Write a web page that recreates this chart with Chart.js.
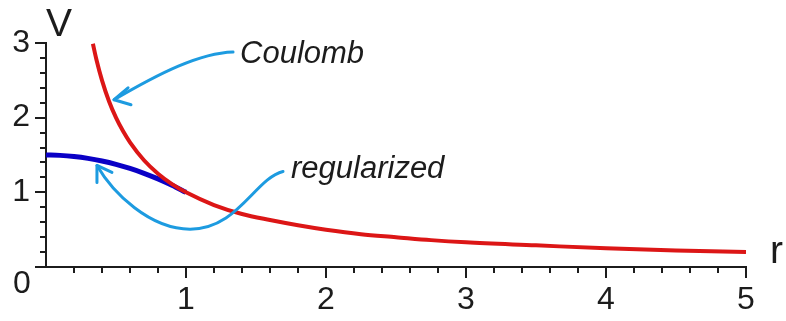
<!DOCTYPE html>
<html>
<head>
<meta charset="utf-8">
<script src="https://cdn.jsdelivr.net/npm/chart.js@4/dist/chart.umd.min.js"></script>
<style>
  html, body { margin: 0; padding: 0; background: #ffffff; }
  #wrap { width: 786px; height: 321px; }
</style>
</head>
<body>
<div id="wrap"><canvas id="c" width="786" height="321"></canvas></div>
<script>
// Potential of a point charge (Coulomb) and of the regularized charge
const coulombR = [0.335, 0.36, 0.4, 0.45, 0.5, 0.55, 0.6, 0.7, 0.8, 0.9, 1.0, 1.2, 1.4, 1.6, 1.8, 2.0, 2.25, 2.5, 2.75, 3.0, 3.5, 4.0, 4.5, 5.0];
const coulombV = [2.99, 2.78, 2.5, 2.22, 2.0, 1.82, 1.67, 1.43, 1.25, 1.11, 1.0, 0.83, 0.71, 0.63, 0.56, 0.5, 0.44, 0.4, 0.36, 0.33, 0.29, 0.25, 0.22, 0.2];

const regR = [0, 0.1, 0.2, 0.3, 0.4, 0.5, 0.6, 0.7, 0.8, 0.9, 1.0];
const regV = [1.5, 1.495, 1.48, 1.455, 1.42, 1.375, 1.32, 1.255, 1.18, 1.095, 1.0];

// Axis tick labels (integer ticks only; minor ticks every 0.2)
const xTickLabels = ['1', '2', '3', '4', '5'];
const yTickLabels = ['1', '2', '3'];
const originLabel = '0';
const xAxisTitle = 'r';
const yAxisTitle = 'V';

// Curve labels and their arrows, in data units (r, V)
const coulombLabel = 'Coulomb';
const regularizedLabel = 'regularized';

const arrows = [
  {
    text: coulombLabel, textAt: [1.386, 2.733],
    path: [[[1.336, 2.880], [1.100, 2.867], [0.814, 2.600], [0.486, 2.240]]],
    wings: [[0.586, 2.400], [0.607, 2.173]]
  },
  {
    text: regularizedLabel, textAt: [1.75, 1.187],
    path: [
      [[1.693, 1.280], [1.493, 1.187], [1.371, 0.507], [1.029, 0.507]],
      [[1.029, 0.507], [0.743, 0.507], [0.479, 0.987], [0.364, 1.360]]
    ],
    wings: [[0.364, 1.133], [0.471, 1.267]]
  }
];

const FONT = "'Liberation Sans', Arial, Helvetica, sans-serif";
const INK = '#1c1c1c';
const ARROW = '#1d9be0';

const toPoints = (xs, ys) => xs.map((x, i) => ({ x: x, y: ys[i] }));

function isInt(v) { return Math.abs(v - Math.round(v)) < 1e-6; }

// Major/minor tick marks drawn against the library's scales
const tickMarks = {
  id: 'tickMarks',
  afterDraw(chart) {
    const ctx = chart.ctx;
    const xs = chart.scales.x, ys = chart.scales.y;
    const area = chart.chartArea;
    ctx.save();
    ctx.strokeStyle = INK;
    ctx.lineWidth = 2;
    ctx.beginPath();
    xs.ticks.forEach(t => {
      if (Math.abs(t.value) < 1e-6) return;
      const px = Math.round(xs.getPixelForValue(t.value));
      const len = isInt(t.value) ? 11 : 6;
      ctx.moveTo(px, area.bottom);
      ctx.lineTo(px, area.bottom + len);
    });
    ys.ticks.forEach(t => {
      const py = Math.round(ys.getPixelForValue(t.value));
      const len = isInt(t.value) ? 11 : 6;
      ctx.moveTo(area.left, py);
      ctx.lineTo(area.left - len, py);
    });
    ctx.stroke();

    // shared origin label and axis titles
    ctx.fillStyle = INK;
    ctx.font = '32px ' + FONT;
    ctx.textAlign = 'center';
    ctx.textBaseline = 'middle';
    ctx.fillText(originLabel, xs.getPixelForValue(0) - 24, ys.getPixelForValue(0) + 17);

    ctx.font = '39px ' + FONT;
    ctx.textAlign = 'left';
    ctx.textBaseline = 'alphabetic';
    ctx.fillText(yAxisTitle, xs.getPixelForValue(0.0), ys.getPixelForValue(3.093));
    ctx.fillText(xAxisTitle, xs.getPixelForValue(5.171), ys.getPixelForValue(0.053));
    ctx.restore();
  }
};

// Curved arrows pointing from the labels to the curves
const curveArrows = {
  id: 'curveArrows',
  afterDatasetsDraw(chart) {
    const ctx = chart.ctx;
    const xs = chart.scales.x, ys = chart.scales.y;
    const P = p => [xs.getPixelForValue(p[0]), ys.getPixelForValue(p[1])];
    ctx.save();
    arrows.forEach(a => {
      ctx.strokeStyle = ARROW;
      ctx.lineWidth = 3;
      ctx.lineCap = 'round';
      ctx.lineJoin = 'round';
      ctx.beginPath();
      a.path.forEach((seg, i) => {
        const p0 = P(seg[0]), p1 = P(seg[1]), p2 = P(seg[2]), p3 = P(seg[3]);
        if (i === 0) ctx.moveTo(p0[0], p0[1]);
        ctx.bezierCurveTo(p1[0], p1[1], p2[0], p2[1], p3[0], p3[1]);
      });
      ctx.stroke();
      const last = a.path[a.path.length - 1];
      const tip = P(last[3]);
      ctx.beginPath();
      a.wings.forEach(w => {
        const wp = P(w);
        ctx.moveTo(wp[0], wp[1]);
        ctx.lineTo(tip[0], tip[1]);
      });
      ctx.stroke();

      const tp = P(a.textAt);
      ctx.fillStyle = INK;
      ctx.font = 'italic 31px ' + FONT;
      ctx.textAlign = 'left';
      ctx.textBaseline = 'alphabetic';
      ctx.fillText(a.text, tp[0], tp[1]);
    });
    ctx.restore();
  }
};

new Chart(document.getElementById('c'), {
  type: 'scatter',
  data: {
    datasets: [
      {
        label: 'Coulomb',
        data: toPoints(coulombR, coulombV),
        showLine: true,
        borderColor: '#dc1616',
        borderWidth: 4,
        pointRadius: 0,
        cubicInterpolationMode: 'monotone',
        clip: false,
        order: 1
      },
      {
        label: 'regularized',
        data: toPoints(regR, regV),
        showLine: true,
        borderColor: '#0a00c6',
        borderWidth: 5,
        pointRadius: 0,
        cubicInterpolationMode: 'monotone',
        clip: false,
        order: 2
      }
    ]
  },
  options: {
    responsive: false,
    animation: false,
    devicePixelRatio: 1,
    layout: { padding: { left: 0, top: 43, right: 40, bottom: 0 } },
    plugins: {
      legend: { display: false },
      tooltip: { enabled: false }
    },
    scales: {
      x: {
        type: 'linear',
        min: 0, max: 5,
        afterFit(scale) { scale.height = 54; },
        border: { display: true, color: INK, width: 2 },
        grid: { display: true, drawOnChartArea: false, drawTicks: true, tickLength: 6, tickColor: 'rgba(0,0,0,0)' },
        ticks: {
          stepSize: 0.2,
          autoSkip: false,
          maxRotation: 0,
          padding: 8,
          color: INK,
          font: { family: FONT, size: 32 },
          callback: v => (isInt(v) && Math.round(v) > 0) ? xTickLabels[Math.round(v) - 1] : ''
        }
      },
      y: {
        type: 'linear',
        min: 0, max: 3,
        afterFit(scale) { scale.width = 46; },
        border: { display: true, color: INK, width: 2 },
        grid: { display: true, drawOnChartArea: false, drawTicks: true, tickLength: 11, tickColor: 'rgba(0,0,0,0)' },
        ticks: {
          stepSize: 0.2,
          autoSkip: false,
          padding: 5,
          color: INK,
          font: { family: FONT, size: 32 },
          callback: v => (isInt(v) && Math.round(v) > 0) ? yTickLabels[Math.round(v) - 1] : ''
        }
      }
    }
  },
  plugins: [tickMarks, curveArrows]
});
</script>
</body>
</html>
